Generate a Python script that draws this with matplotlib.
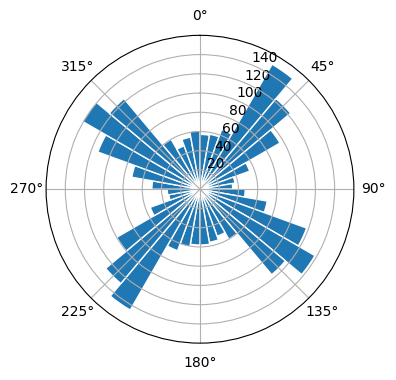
import numpy as np
import matplotlib
matplotlib.use('Agg')
import matplotlib.pyplot as plt

# wind-rose style counts, one per 10 degree sector (centre 5, 15, ... 355)
sector_deg = np.arange(5, 360, 10)
counts = [57, 58, 66, 150, 123, 96, 55, 37, 34,
          47, 71, 118, 138, 116, 60, 52, 56, 58,
          58, 61, 68, 145, 128, 100, 55, 33, 34,
          50, 72, 113, 141, 123, 60, 48, 55, 61]

fig = plt.figure(figsize=(3.96, 3.8), dpi=100)
ax = fig.add_axes([0.116, 0.097, 0.778, 0.81], projection='polar')
ax.set_theta_zero_location('N')
ax.set_theta_direction(-1)

theta = np.deg2rad(sector_deg)
ax.bar(theta, counts, width=np.deg2rad(10), color='C0',
       edgecolor='white', linewidth=1)
ax.set_ylim(0, 160)
ax.set_yticks([20, 40, 60, 80, 100, 120, 140])

fig.savefig('out.png', dpi=100)
